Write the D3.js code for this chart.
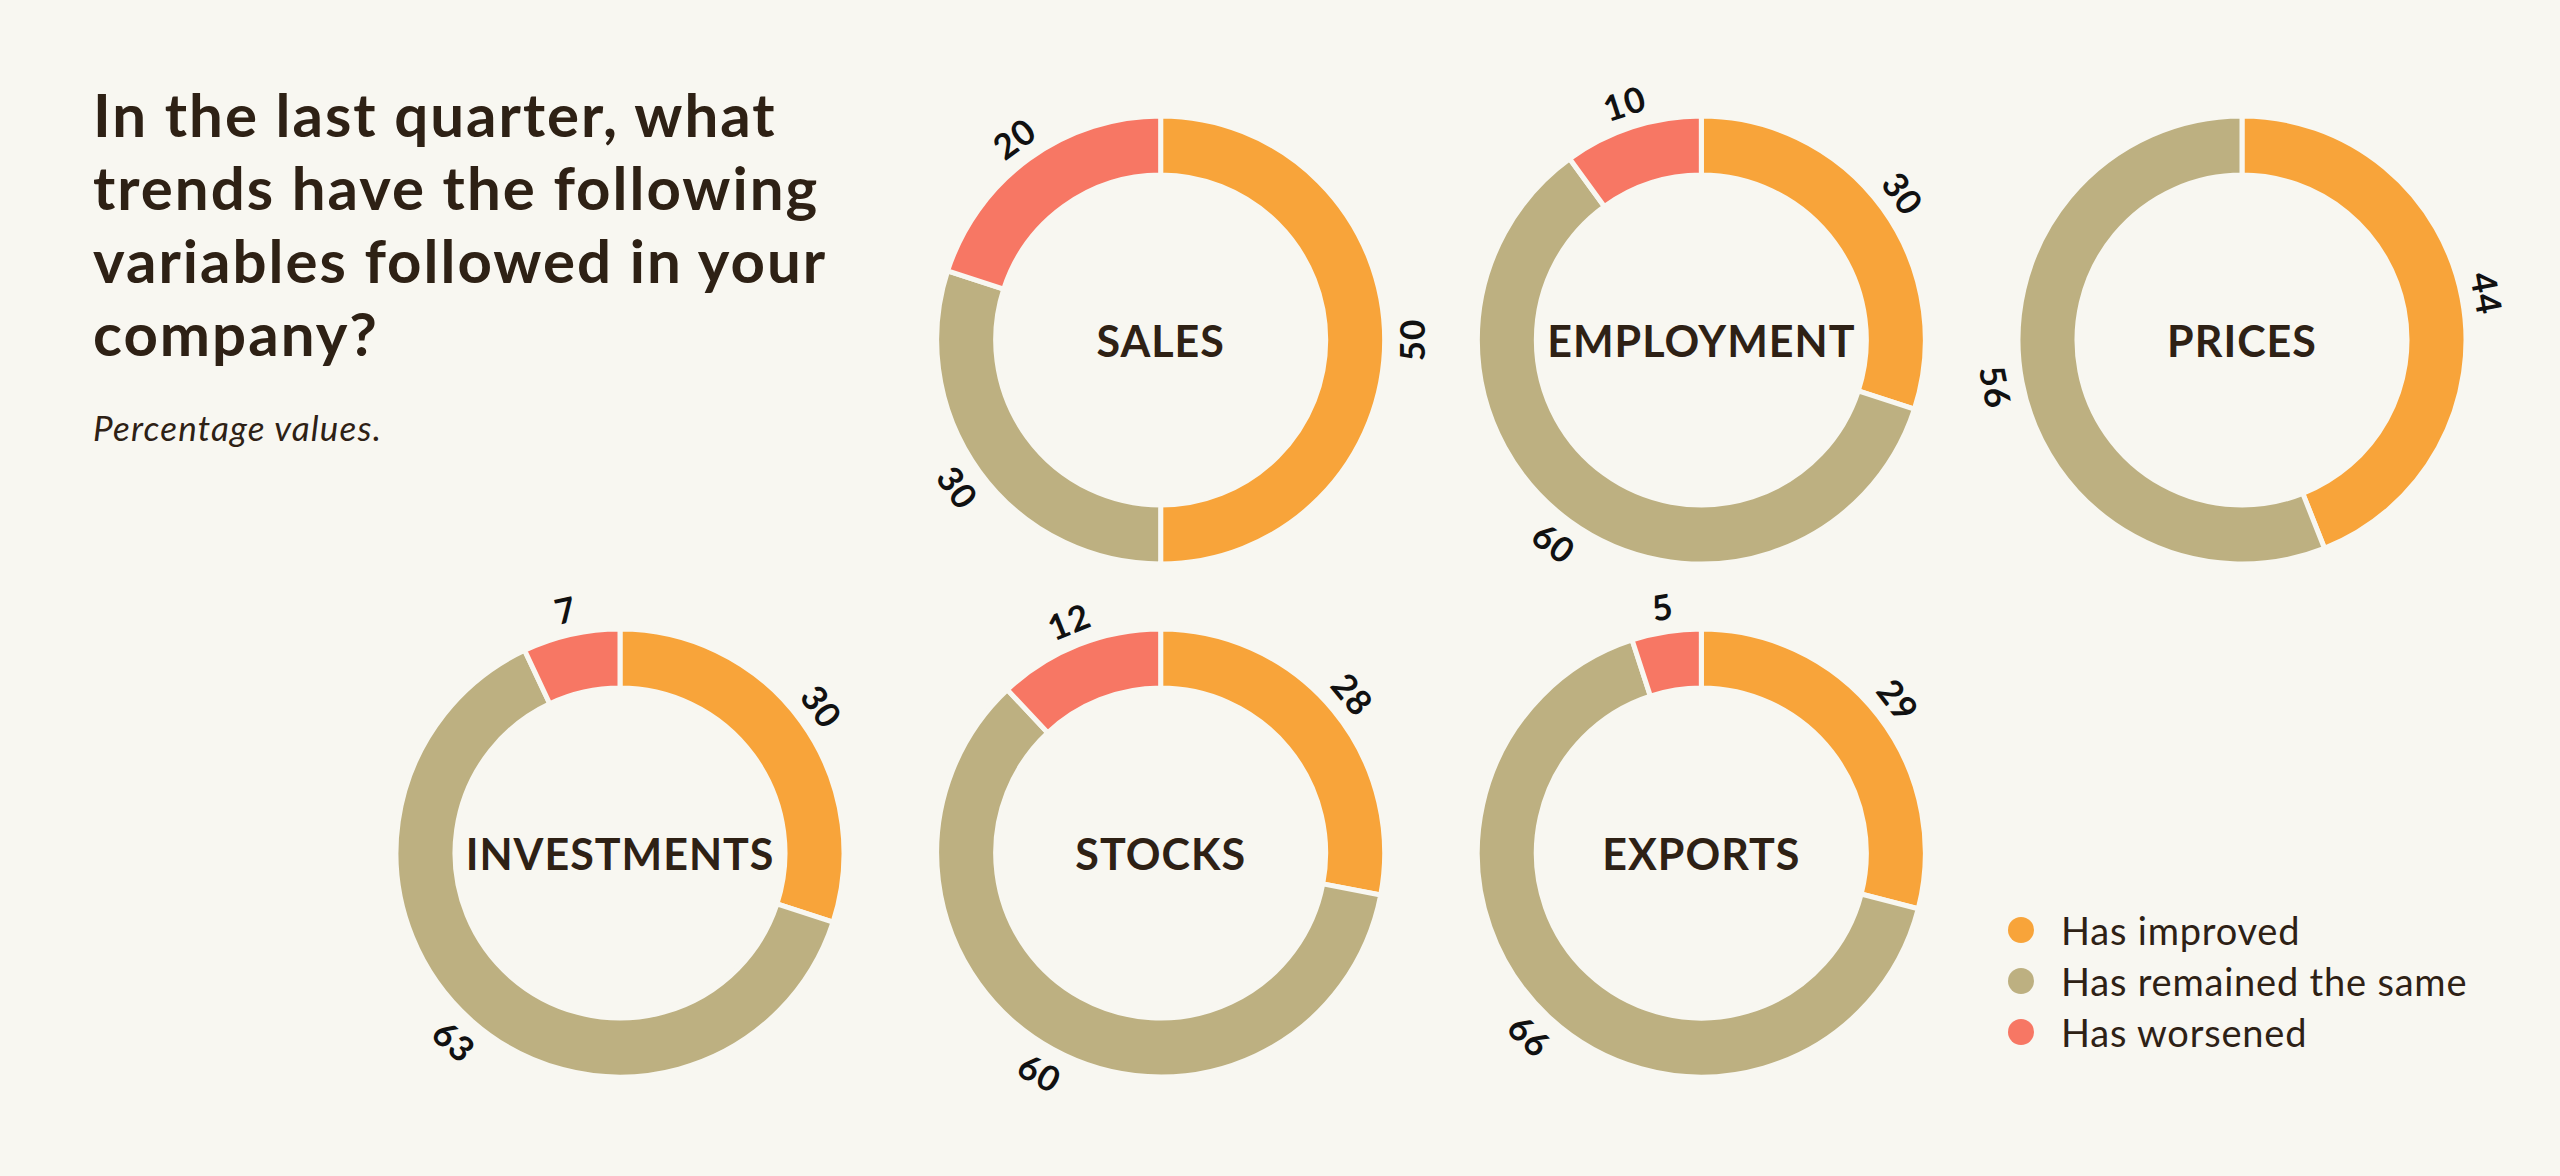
<!DOCTYPE html>
<html>
<head>
<meta charset="utf-8">
<script src="https://cdn.jsdelivr.net/npm/d3@7"></script>
<style>
  html, body { margin: 0; padding: 0; background: #f8f7f1; }
  svg { display: block; }
</style>
</head>
<body>
<div id="chart"></div>
<script>
// data (percentages)
var variables = ["SALES", "EMPLOYMENT", "PRICES", "INVESTMENTS", "STOCKS", "EXPORTS"];
var improved  = [50, 30, 44, 30, 28, 29];
var same      = [30, 60, 56, 63, 60, 66];
var worsened  = [20, 10, 0, 7, 12, 5];
var seriesNames = ["Has improved", "Has remained the same", "Has worsened"];
var titleLines = ["In the last quarter, what", "trends have the following",
                  "variables followed in your", "company?"];
var subtitle = "Percentage values.";

var width = 2560, height = 1176;
var bg = "#f8f7f1", ink = "#2e2115";

var color = d3.scaleOrdinal()
    .domain(seriesNames)
    .range(["#f8a43a", "#bdb081", "#f77764"]);

// grid slot (column, row) of each donut
var slots = [[1, 0], [2, 0], [3, 0], [0, 1], [1, 1], [2, 1]];
var xCol = d3.scaleLinear().domain([0, 3]).range([620, 2242]);
var yRow = d3.scaleLinear().domain([0, 1]).range([340, 853]);

var outerR = 224, innerR = 165, labelR = 250;

var svg = d3.select("#chart").append("svg")
    .attr("width", width).attr("height", height);
svg.append("rect").attr("width", width).attr("height", height).attr("fill", bg);

// title
var title = svg.append("text")
    .attr("x", 93).attr("y", 137)
    .attr("fill", ink)
    .style("font-family", "Lato, sans-serif")
    .style("font-weight", 700)
    .style("font-size", "60px")
    .style("letter-spacing", "2px");
title.selectAll("tspan").data(titleLines).enter().append("tspan")
    .attr("x", 93)
    .attr("dy", function(d, i) { return i === 0 ? 0 : 73; })
    .text(function(d) { return d; });

svg.append("text")
    .attr("x", 93).attr("y", 441)
    .attr("fill", ink)
    .style("font-family", "Lato, sans-serif")
    .style("font-style", "italic")
    .style("font-size", "35px")
    .style("letter-spacing", "1.2px")
    .text(subtitle);

var pie = d3.pie().sort(null).value(function(d) { return d.value; });
var arc = d3.arc().innerRadius(innerR).outerRadius(outerR);

var data = variables.map(function(name, i) {
    return {
        name: name,
        slot: slots[i],
        parts: [
            { key: seriesNames[0], value: improved[i] },
            { key: seriesNames[1], value: same[i] },
            { key: seriesNames[2], value: worsened[i] }
        ].filter(function(p) { return p.value > 0; })
    };
});

var donut = svg.selectAll(".donut").data(data).enter().append("g")
    .attr("class", "donut")
    .attr("transform", function(d) {
        return "translate(" + xCol(d.slot[0]) + "," + yRow(d.slot[1]) + ")";
    });

donut.selectAll("path").data(function(d) { return pie(d.parts); }).enter().append("path")
    .attr("d", arc)
    .attr("fill", function(d) { return color(d.data.key); })
    .attr("stroke", bg)
    .attr("stroke-width", 5)
    .attr("stroke-linejoin", "miter");

// value labels, tangent to the ring
donut.selectAll(".val").data(function(d) { return pie(d.parts); }).enter().append("text")
    .attr("class", "val")
    .attr("transform", function(d) {
        var a = (d.startAngle + d.endAngle) / 2;
        var deg = a * 180 / Math.PI;
        var rot = (deg > 90 && deg < 270) ? deg - 180 : (deg >= 270 ? deg - 360 : deg);
        return "translate(" + (labelR * Math.sin(a)) + "," + (-labelR * Math.cos(a)) + ") rotate(" + rot + ")";
    })
    .attr("text-anchor", "middle")
    .attr("dominant-baseline", "central")
    .attr("fill", "#111")
    .style("font-family", "Lato, sans-serif")
    .style("font-weight", 700)
    .style("font-size", "35px")
    .style("letter-spacing", "1px")
    .text(function(d) { return d.data.value; });

donut.append("text")
    .attr("text-anchor", "middle")
    .attr("dominant-baseline", "central")
    .attr("fill", ink)
    .style("font-family", "Lato, sans-serif")
    .style("font-weight", 700)
    .style("font-size", "43px")
    .style("letter-spacing", "1px")
    .text(function(d) { return d.name; });

// legend
var legend = svg.selectAll(".legend").data(seriesNames).enter().append("g")
    .attr("class", "legend")
    .attr("transform", function(d, i) { return "translate(2021," + (930 + i * 51) + ")"; });
legend.append("circle").attr("r", 13).attr("fill", function(d) { return color(d); });
legend.append("text")
    .attr("x", 40)
    .attr("dominant-baseline", "central")
    .attr("fill", ink)
    .style("font-family", "Lato, sans-serif")
    .style("font-size", "38px")
    .style("letter-spacing", "0.8px")
    .text(function(d) { return d; });
</script>
</body>
</html>
